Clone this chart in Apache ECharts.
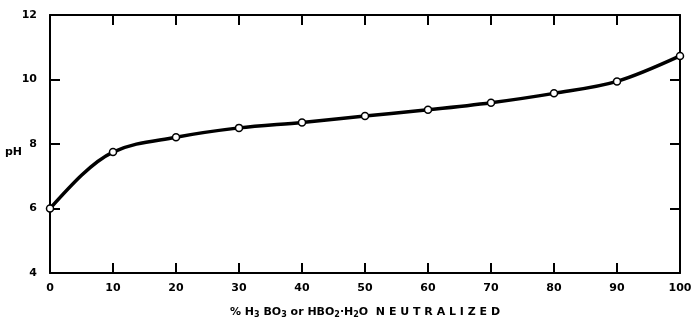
<!DOCTYPE html>
<html><head><meta charset="utf-8">
<script src="https://cdn.jsdelivr.net/npm/echarts@6/dist/echarts.min.js"></script>
<style>html,body{margin:0;padding:0;background:#fff}#c{width:695px;height:321px}</style>
</head><body><div id="c"></div>
<script>
const pctNeutralized = [0, 10, 20, 30, 40, 50, 60, 70, 80, 90, 100];
const pHValues = [6.0, 7.75, 8.21, 8.5, 8.67, 8.87, 9.06, 9.28, 9.57, 9.94, 10.73];
const xTicks = [0, 10, 20, 30, 40, 50, 60, 70, 80, 90, 100];
const yTicks = [4, 6, 8, 10, 12];

// monotone cubic tangents (data space)
function tangents(xs, ys) {
  const n = xs.length, s = [], m = new Array(n);
  for (let i = 0; i < n - 1; i++) s.push((ys[i+1]-ys[i])/(xs[i+1]-xs[i]));
  for (let i = 1; i < n - 1; i++) {
    const h0 = xs[i]-xs[i-1], h1 = xs[i+1]-xs[i];
    const p = (s[i-1]*h1 + s[i]*h0)/(h0+h1);
    m[i] = (Math.sign(s[i-1]) + Math.sign(s[i])) * Math.min(Math.abs(s[i-1]), Math.abs(s[i]), 0.5*Math.abs(p)) || 0;
  }
  m[0] = (3*s[0] - m[1]) / 2;
  m[n-1] = (3*s[n-2] - m[n-2]) / 2;
  return m;
}
const tan = tangents(pctNeutralized, pHValues);

const chart = echarts.init(document.getElementById('c'));
const lblFont = {color:'#000', fontFamily:'DejaVu Sans', fontWeight:'bold', fontSize:11};
const axLine = {show:true, onZero:false, lineStyle:{color:'#000', width:2}};
const tick = {show:true, inside:true, length:10, lineStyle:{color:'#000', width:2}};
chart.setOption({
  animation:false,
  grid:{left:50, right:15, top:15, bottom:48, outerBoundsMode:'none', containLabel:false},
  xAxis:[{
    type:'value', min:0, max:100, interval:10, position:'bottom',
    axisLine:axLine, axisTick:tick, splitLine:{show:false},
    axisLabel:Object.assign({margin:10}, lblFont),
    name:'{t|% H}{s|3}{t| BO}{s|3}{t| or HBO}{s|2}{t|·H}{s|2}{t|O  N E U T R A L I Z E D}',
    nameLocation:'middle', nameGap:32,
    nameTextStyle:{rich:{
      t:{fontFamily:'DejaVu Sans', fontWeight:'bold', fontSize:11, color:'#000'},
      s:{fontFamily:'DejaVu Sans', fontWeight:'bold', fontSize:8, color:'#000', padding:[6,0,0,0]}
    }}
  },{
    type:'value', min:0, max:100, interval:10, position:'top',
    axisLine:axLine, axisTick:tick, axisLabel:{show:false}, splitLine:{show:false}
  }],
  yAxis:[{
    type:'value', min:4, max:12, interval:2, position:'left',
    axisLine:axLine, axisTick:tick, splitLine:{show:false},
    axisLabel:Object.assign({margin:13}, lblFont),
    name:'pH', nameLocation:'middle', nameGap:28, nameRotate:0, nameMoveOverlap:false,
    nameTextStyle:Object.assign({verticalAlign:'top', padding:[3,0,0,0]}, lblFont)
  },{
    type:'value', min:4, max:12, interval:2, position:'right',
    axisLine:axLine, axisTick:tick, axisLabel:{show:false}, splitLine:{show:false}
  }],
  series:[{
    type:'custom',
    data:pctNeutralized.map((x,i)=>[x,pHValues[i]]),
    renderItem:function(params, api){
      const i = params.dataIndex;
      if (i >= pctNeutralized.length - 1) return null;
      const x0 = pctNeutralized[i], x1 = pctNeutralized[i+1];
      const y0 = pHValues[i], y1 = pHValues[i+1];
      const h = (x1 - x0)/3;
      const a = api.coord([x0, y0]), b = api.coord([x1, y1]);
      const c1 = api.coord([x0 + h, y0 + tan[i]*h]);
      const c2 = api.coord([x1 - h, y1 - tan[i+1]*h]);
      return {type:'bezierCurve',
        shape:{x1:a[0], y1:a[1], x2:b[0], y2:b[1], cpx1:c1[0], cpy1:c1[1], cpx2:c2[0], cpy2:c2[1]},
        style:{stroke:'#000', lineWidth:3.5, fill:null, lineCap:'round'}};
    },
    z:4, silent:true
  },{
    type:'scatter',
    data:pctNeutralized.map((x,i)=>[x,pHValues[i]]),
    symbol:'circle', symbolSize:7,
    itemStyle:{color:'#fff', borderColor:'#000', borderWidth:1.5, opacity:1},
    z:5
  }]
});
</script></body></html>
